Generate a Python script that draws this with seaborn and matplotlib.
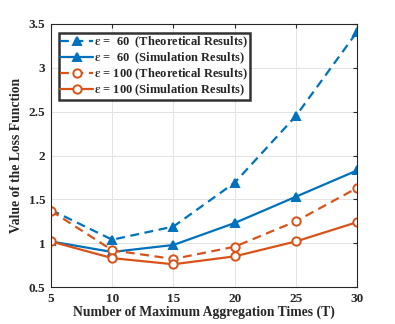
import pandas as pd
import matplotlib
matplotlib.use('Agg')
import matplotlib.pyplot as plt
import seaborn as sns

# aggregation times
T = [5, 10, 15, 20, 25, 30]

# loss values
eps60_theory = [1.38, 1.04, 1.19, 1.69, 2.45, 3.41]
eps60_sim = [1.02, 0.90, 0.98, 1.23, 1.53, 1.83]
eps100_theory = [1.37, 0.92, 0.82, 0.96, 1.25, 1.63]
eps100_sim = [1.02, 0.83, 0.76, 0.85, 1.02, 1.24]

labels = [
    r'$\epsilon$ =  60  (Theoretical Results)',
    r'$\epsilon$ =  60  (Simulation Results)',
    r'$\epsilon$ = 100 (Theoretical Results)',
    r'$\epsilon$ = 100 (Simulation Results)',
]

BLUE = '#0072BD'
ORANGE = '#D95319'


def main():
    sns.set_style('white')
    plt.rcParams['font.family'] = ['Liberation Serif', 'DejaVu Serif']
    plt.rcParams['font.weight'] = 'bold'
    plt.rcParams['mathtext.fontset'] = 'stix'
    plt.rcParams['mathtext.default'] = 'bf'

    fig = plt.figure(figsize=(3.95, 3.24), dpi=100)
    ax = fig.add_axes([0.129, 0.114, 0.775, 0.812])

    series = [
        (eps60_theory, BLUE, (4, 2.5), '^', BLUE),
        (eps60_sim, BLUE, '', '^', BLUE),
        (eps100_theory, ORANGE, (4, 2.5), 'o', 'white'),
        (eps100_sim, ORANGE, '', 'o', 'white'),
    ]
    for (vals, col, dash, mk, face), lab in zip(series, labels):
        df = pd.DataFrame({'T': T, 'loss': vals})
        sns.lineplot(data=df, x='T', y='loss', ax=ax, color=col, lw=1.6,
                     marker=mk, markersize=6, markerfacecolor=face,
                     markeredgecolor=col, markeredgewidth=1.4,
                     dashes=dash if dash else [], label=lab)

    ax.set_xlim(5, 30)
    ax.set_ylim(0.5, 3.5)
    ax.set_xticks(T)
    ax.set_yticks([0.5, 1, 1.5, 2, 2.5, 3, 3.5])
    ax.set_yticklabels(['0.5', '1', '1.5', '2', '2.5', '3', '3.5'])
    ax.grid(True, color='#e3e3e3', lw=0.7)
    ax.tick_params(direction='in', labelsize=9.5, length=3, color='#262626',
                   top=True, right=True, pad=4)
    for lab in ax.get_xticklabels() + ax.get_yticklabels():
        lab.set_fontweight('bold')
    for s in ax.spines.values():
        s.set_color('#262626')
        s.set_linewidth(0.8)

    ax.set_xlabel('Number of Maximum Aggregation Times (T)', fontsize=9.8,
                  fontweight='bold', labelpad=1)
    ax.set_ylabel('Value of the Loss Function', fontsize=9.8,
                  fontweight='bold', labelpad=4)

    leg = ax.legend(loc='upper left', bbox_to_anchor=(0.025, 0.967),
                    fontsize=9, frameon=True, fancybox=False,
                    handlelength=2.6, handletextpad=0.1, borderpad=0.15,
                    labelspacing=0.05, borderaxespad=0)
    leg.get_frame().set_edgecolor('black')
    leg.get_frame().set_linewidth(1.8)
    for t in leg.get_texts():
        t.set_fontweight('bold')

    fig.savefig('out.png', dpi=100)


if __name__ == '__main__':
    main()
